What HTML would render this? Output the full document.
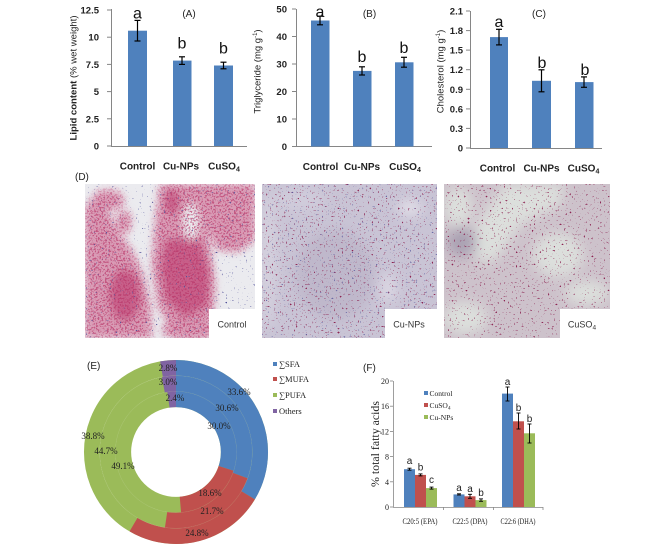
<!DOCTYPE html>
<html><head><meta charset="utf-8"><style>
html,body{margin:0;padding:0;background:#fff;}
svg{display:block;}
</style></head><body>
<svg width="653" height="550" viewBox="0 0 653 550" xmlns="http://www.w3.org/2000/svg">
<defs>
 <filter id="b4" x="-30%" y="-30%" width="160%" height="160%"><feGaussianBlur stdDeviation="4"/></filter>
 <filter id="b6" x="-30%" y="-30%" width="160%" height="160%"><feGaussianBlur stdDeviation="6"/></filter>
 <filter id="spkD" x="0" y="0" width="100%" height="100%" color-interpolation-filters="sRGB">
  <feTurbulence type="fractalNoise" baseFrequency="0.55" numOctaves="2" seed="5"/>
  <feColorMatrix type="matrix" values="0 0 0 0 0.72  0 0 0 0 0.2  0 0 0 0 0.4  0 0 0 9 -4.6"/>
 </filter>
 <filter id="spkM" x="0" y="0" width="100%" height="100%" color-interpolation-filters="sRGB">
  <feTurbulence type="fractalNoise" baseFrequency="0.5" numOctaves="2" seed="3"/>
  <feColorMatrix type="matrix" values="0 0 0 0 0.55  0 0 0 0 0.14  0 0 0 0 0.32  0 0 0 20 -14"/>
 </filter>
 <filter id="spkB" x="0" y="0" width="100%" height="100%" color-interpolation-filters="sRGB">
  <feTurbulence type="fractalNoise" baseFrequency="0.5" numOctaves="2" seed="9"/>
  <feColorMatrix type="matrix" values="0 0 0 0 0.32  0 0 0 0 0.32  0 0 0 0 0.6  0 0 0 20 -14.6"/>
 </filter>
 <clipPath id="c1"><rect x="85" y="184" width="170" height="154"/></clipPath>
 <clipPath id="c2"><rect x="262" y="184" width="175" height="154"/></clipPath>
 <clipPath id="c3"><rect x="444" y="184" width="166" height="154"/></clipPath>
 <mask id="m1" maskUnits="userSpaceOnUse" x="85" y="184" width="170" height="154">
  <g fill="#fff" filter="url(#b4)">
   <polygon points="85,205 98,198 108,212 118,232 132,250 143,275 150,305 152,338 85,338"/>
   <ellipse cx="108" cy="200" rx="16" ry="10"/>
   <ellipse cx="124" cy="222" rx="7" ry="12"/>
   <polygon points="160,184 196,184 203,210 210,245 215,285 213,318 200,332 172,332 158,305 152,265 155,225"/>
   <polygon points="196,184 255,184 255,240 238,252 218,250 207,228"/>
   <ellipse cx="190" cy="330" rx="28" ry="10"/>
  </g>
 </mask>
</defs>

<!-- ===== Chart A ===== -->
<g font-family="'Liberation Sans',sans-serif">
 <g stroke="#868686" stroke-width="1">
  <line x1="111.5" y1="9" x2="111.5" y2="146.5"/>
  <line x1="111" y1="146.5" x2="247" y2="146.5"/>
  <line x1="107" y1="10" x2="111" y2="10"/><line x1="107" y1="37.2" x2="111" y2="37.2"/>
  <line x1="107" y1="64.4" x2="111" y2="64.4"/><line x1="107" y1="91.6" x2="111" y2="91.6"/>
  <line x1="107" y1="118.8" x2="111" y2="118.8"/><line x1="107" y1="146" x2="111" y2="146"/>
 </g>
 <g font-size="9.5" font-weight="bold" fill="#222" text-anchor="end">
  <text x="99" y="13.5">12.5</text><text x="99" y="40.7">10</text><text x="99" y="67.9">7.5</text>
  <text x="99" y="95.1">5</text><text x="99" y="122.3">2.5</text><text x="99" y="149.5">0</text>
 </g>
 <g fill="#4f81bd">
  <rect x="128" y="30.7" width="19" height="115.3"/>
  <rect x="173" y="60.6" width="18.5" height="85.4"/>
  <rect x="214" y="65.5" width="19" height="80.5"/>
 </g>
 <g stroke="#000" stroke-width="1.2">
  <line x1="137.5" y1="20.4" x2="137.5" y2="41"/><line x1="134.5" y1="20.4" x2="140.5" y2="20.4"/><line x1="134.5" y1="41" x2="140.5" y2="41"/>
  <line x1="182" y1="56.8" x2="182" y2="64.4"/><line x1="179" y1="56.8" x2="185" y2="56.8"/><line x1="179" y1="64.4" x2="185" y2="64.4"/>
  <line x1="223.5" y1="62.2" x2="223.5" y2="68.8"/><line x1="220.5" y1="62.2" x2="226.5" y2="62.2"/><line x1="220.5" y1="68.8" x2="226.5" y2="68.8"/>
 </g>
 <g font-size="16" fill="#111" text-anchor="middle">
  <text x="137.5" y="18.5">a</text><text x="182" y="48.5">b</text><text x="223.5" y="53.5">b</text>
 </g>
 <text x="189" y="17" font-size="10" text-anchor="middle" fill="#222">(A)</text>
 <text transform="translate(76.5,78) rotate(-90)" font-size="9.5" text-anchor="middle" fill="#222" textLength="125" lengthAdjust="spacingAndGlyphs"><tspan font-weight="bold">Lipid content</tspan> (% wet  weight)</text>
 <g font-size="10" font-weight="bold" fill="#222" text-anchor="middle">
  <text x="137.5" y="169.5">Control</text><text x="181" y="169.5">Cu-NPs</text><text x="224" y="169.5">CuSO<tspan font-size="7" dy="2">4</tspan></text>
 </g>
</g>

<!-- ===== Chart B ===== -->
<g font-family="'Liberation Sans',sans-serif">
 <g stroke="#868686" stroke-width="1">
  <line x1="296.5" y1="9" x2="296.5" y2="147"/>
  <line x1="296" y1="146.5" x2="432" y2="146.5"/>
  <line x1="292" y1="9" x2="296" y2="9"/><line x1="292" y1="36.5" x2="296" y2="36.5"/>
  <line x1="292" y1="64" x2="296" y2="64"/><line x1="292" y1="91.5" x2="296" y2="91.5"/>
  <line x1="292" y1="119" x2="296" y2="119"/><line x1="292" y1="146.5" x2="296" y2="146.5"/>
 </g>
 <g font-size="9.5" font-weight="bold" fill="#222" text-anchor="end">
  <text x="287" y="12.5">50</text><text x="287" y="40">40</text><text x="287" y="67.5">30</text>
  <text x="287" y="95">20</text><text x="287" y="122.5">10</text><text x="287" y="150">0</text>
 </g>
 <g fill="#4f81bd">
  <rect x="311" y="20.5" width="18.5" height="126"/>
  <rect x="353" y="70.9" width="18.5" height="75.6"/>
  <rect x="395" y="62.3" width="18.5" height="84.2"/>
 </g>
 <g stroke="#000" stroke-width="1.2">
  <line x1="320" y1="16.2" x2="320" y2="24.8"/><line x1="317" y1="16.2" x2="323" y2="16.2"/><line x1="317" y1="24.8" x2="323" y2="24.8"/>
  <line x1="362" y1="66.8" x2="362" y2="75"/><line x1="359" y1="66.8" x2="365" y2="66.8"/><line x1="359" y1="75" x2="365" y2="75"/>
  <line x1="404" y1="57.3" x2="404" y2="67.2"/><line x1="401" y1="57.3" x2="407" y2="57.3"/><line x1="401" y1="67.2" x2="407" y2="67.2"/>
 </g>
 <g font-size="16" fill="#111" text-anchor="middle">
  <text x="320" y="17">a</text><text x="362" y="62">b</text><text x="404" y="53">b</text>
 </g>
 <text x="369.5" y="17" font-size="10" text-anchor="middle" fill="#222">(B)</text>
 <text transform="translate(260.5,71.5) rotate(-90)" font-size="9.5" text-anchor="middle" fill="#222">Triglyceride (mg g<tspan font-size="6" dy="-3.5">-1</tspan><tspan dy="3.5">)</tspan></text>
 <g font-size="10" font-weight="bold" fill="#222" text-anchor="middle">
  <text x="320.5" y="170">Control</text><text x="362" y="170">Cu-NPs</text><text x="405" y="170">CuSO<tspan font-size="7" dy="2">4</tspan></text>
 </g>
</g>

<!-- ===== Chart C ===== -->
<g font-family="'Liberation Sans',sans-serif">
 <g stroke="#868686" stroke-width="1">
  <line x1="470.5" y1="11" x2="470.5" y2="148.5"/>
  <line x1="470" y1="148.5" x2="602" y2="148.5"/>
  <line x1="466" y1="11" x2="470" y2="11"/><line x1="466" y1="30.6" x2="470" y2="30.6"/>
  <line x1="466" y1="50.1" x2="470" y2="50.1"/><line x1="466" y1="69.7" x2="470" y2="69.7"/>
  <line x1="466" y1="89.3" x2="470" y2="89.3"/><line x1="466" y1="108.9" x2="470" y2="108.9"/>
  <line x1="466" y1="128.4" x2="470" y2="128.4"/><line x1="466" y1="148" x2="470" y2="148"/>
 </g>
 <g font-size="9.5" font-weight="bold" fill="#222" text-anchor="end">
  <text x="463" y="14.5">2.1</text><text x="463" y="34.1">1.8</text><text x="463" y="53.6">1.5</text>
  <text x="463" y="73.2">1.2</text><text x="463" y="92.8">0.9</text><text x="463" y="112.4">0.6</text>
  <text x="463" y="131.9">0.3</text><text x="463" y="151.5">0</text>
 </g>
 <g fill="#4f81bd">
  <rect x="490" y="37.1" width="18" height="110.9"/>
  <rect x="532" y="80.8" width="19" height="67.2"/>
  <rect x="575" y="82.1" width="18.5" height="65.9"/>
 </g>
 <g stroke="#000" stroke-width="1.2">
  <line x1="499" y1="29.3" x2="499" y2="44.9"/><line x1="496" y1="29.3" x2="502" y2="29.3"/><line x1="496" y1="44.9" x2="502" y2="44.9"/>
  <line x1="541.5" y1="69.8" x2="541.5" y2="91.8"/><line x1="538.5" y1="69.8" x2="544.5" y2="69.8"/><line x1="538.5" y1="91.8" x2="544.5" y2="91.8"/>
  <line x1="584" y1="76.9" x2="584" y2="87.3"/><line x1="581" y1="76.9" x2="587" y2="76.9"/><line x1="581" y1="87.3" x2="587" y2="87.3"/>
 </g>
 <g font-size="16" fill="#111" text-anchor="middle">
  <text x="499" y="27">a</text><text x="542" y="68">b</text><text x="585" y="75">b</text>
 </g>
 <text x="539" y="17" font-size="10" text-anchor="middle" fill="#222">(C)</text>
 <text transform="translate(443.5,71.5) rotate(-90)" font-size="9.5" text-anchor="middle" fill="#222">Cholesterol (mg g<tspan font-size="6" dy="-3.5">-1</tspan><tspan dy="3.5">)</tspan></text>
 <g font-size="10" font-weight="bold" fill="#222" text-anchor="middle">
  <text x="497.5" y="171.5">Control</text><text x="541.5" y="171.5">Cu-NPs</text><text x="583.5" y="171.5">CuSO<tspan font-size="7" dy="2">4</tspan></text>
 </g>
</g>

<!-- ===== (D) micrographs ===== -->
<text x="75" y="180" font-family="'Liberation Sans',sans-serif" font-size="10" fill="#222">(D)</text>

<g clip-path="url(#c1)">
 <rect x="85" y="184" width="170" height="154" fill="#ebebef"/>
 <g filter="url(#b4)">
  <g fill="#d99bb5">
   <polygon points="85,205 98,198 108,212 118,232 132,250 143,275 150,305 152,338 85,338"/>
   <ellipse cx="108" cy="200" rx="16" ry="10"/>
   <ellipse cx="124" cy="222" rx="7" ry="12"/>
   <polygon points="160,184 196,184 203,210 210,245 215,285 213,318 200,332 172,332 158,305 152,265 155,225"/>
   <polygon points="196,184 255,184 255,240 238,252 218,250 207,228"/>
   <ellipse cx="190" cy="330" rx="28" ry="10"/>
  </g>
  <g fill="#c85f89">
   <polygon points="165,240 198,236 210,270 208,305 185,318 166,300 160,268"/>
   <ellipse cx="125" cy="295" rx="16" ry="26"/>
   <ellipse cx="172" cy="202" rx="7" ry="13"/>
  </g>
  <ellipse cx="191" cy="222" rx="8" ry="19" fill="#ebebef"/>
 </g>
 <rect x="85" y="184" width="170" height="154" filter="url(#spkD)" mask="url(#m1)" opacity="0.65"/>
 <rect x="85" y="184" width="170" height="154" filter="url(#spkB)"/>
 <rect x="209" y="309" width="46" height="29" fill="#fff"/>
 <text x="232" y="327.5" font-family="'Liberation Sans',sans-serif" font-size="9" text-anchor="middle" fill="#333">Control</text>
</g>

<g clip-path="url(#c2)">
 <rect x="262" y="184" width="175" height="154" fill="#c9c4d5"/>
 <g filter="url(#b6)">
  <ellipse cx="268" cy="260" rx="8" ry="70" fill="#d5d1de"/>
  <ellipse cx="335" cy="275" rx="40" ry="45" fill="#bfb8cb"/>
  <ellipse cx="410" cy="208" rx="12" ry="8" fill="#e2dfe8"/>
  <ellipse cx="388" cy="288" rx="9" ry="15" fill="#dad6e2"/>
  <ellipse cx="300" cy="200" rx="25" ry="12" fill="#d0ccdb"/>
 </g>
 <rect x="262" y="184" width="175" height="154" filter="url(#spkM)"/>
 <rect x="262" y="184" width="175" height="154" filter="url(#spkB)" opacity="0.8"/>
 <rect x="385" y="309" width="52" height="29" fill="#fff"/>
 <text x="409" y="327.5" font-family="'Liberation Sans',sans-serif" font-size="9" text-anchor="middle" fill="#333">Cu-NPs</text>
</g>

<g clip-path="url(#c3)">
 <rect x="444" y="184" width="166" height="154" fill="#cdc2cb"/>
 <g filter="url(#b6)" fill="#dcdfdc">
  <ellipse cx="458" cy="207" rx="14" ry="20"/>
  <polygon points="505,184 565,184 560,205 520,225 500,255 485,265 470,250 478,222"/>
  <ellipse cx="558" cy="255" rx="25" ry="22"/>
  <ellipse cx="465" cy="318" rx="22" ry="16"/>
  <ellipse cx="587" cy="293" rx="22" ry="12"/>
  <ellipse cx="462" cy="242" rx="15" ry="15" fill="#aba2b3"/>
 </g>
 <rect x="444" y="184" width="166" height="154" filter="url(#spkM)"/>
 <rect x="560" y="309" width="50" height="29" fill="#fff"/>
 <text x="582" y="327.5" font-family="'Liberation Sans',sans-serif" font-size="9" text-anchor="middle" fill="#333">CuSO<tspan font-size="6.5" dy="2">4</tspan></text>
</g>

<!-- ===== (E) donut ===== -->
<text x="87" y="369" font-family="'Liberation Sans',sans-serif" font-size="10" fill="#222">(E)</text>
<g transform="rotate(-90 176 452)" fill="none">
 <circle cx="176" cy="452" r="52.83" stroke="#9bbb59" stroke-width="15.9"/>
 <circle cx="176" cy="452" r="52.83" stroke="#4f81bd" stroke-width="15.9" stroke-dasharray="99.59 1000"/>
 <circle cx="176" cy="452" r="52.83" stroke="#c0504d" stroke-width="15.9" stroke-dasharray="61.74 1000" stroke-dashoffset="-99.59"/>
 <circle cx="176" cy="452" r="52.83" stroke="#8064a2" stroke-width="15.9" stroke-dasharray="7.97 1000" stroke-dashoffset="-323.98"/>

 <circle cx="176" cy="452" r="68.5" stroke="#9bbb59" stroke-width="15.8"/>
 <circle cx="176" cy="452" r="68.5" stroke="#4f81bd" stroke-width="15.8" stroke-dasharray="131.70 1000"/>
 <circle cx="176" cy="452" r="68.5" stroke="#c0504d" stroke-width="15.8" stroke-dasharray="93.40 1000" stroke-dashoffset="-131.70"/>
 <circle cx="176" cy="452" r="68.5" stroke="#8064a2" stroke-width="15.8" stroke-dasharray="12.91 1000" stroke-dashoffset="-417.49"/>

 <circle cx="176" cy="452" r="84.17" stroke="#9bbb59" stroke-width="15.7"/>
 <circle cx="176" cy="452" r="84.17" stroke="#4f81bd" stroke-width="15.7" stroke-dasharray="177.70 1000"/>
 <circle cx="176" cy="452" r="84.17" stroke="#c0504d" stroke-width="15.7" stroke-dasharray="131.16 1000" stroke-dashoffset="-177.70"/>
 <circle cx="176" cy="452" r="84.17" stroke="#8064a2" stroke-width="15.7" stroke-dasharray="14.81 1000" stroke-dashoffset="-514.05"/>

 <circle cx="176" cy="452" r="60.7" stroke="#fff" stroke-opacity="0.1" stroke-width="0.6"/>
 <circle cx="176" cy="452" r="76.3" stroke="#fff" stroke-opacity="0.1" stroke-width="0.6"/>
</g>
<g font-family="'Liberation Serif',serif" font-size="9" fill="#222" text-anchor="middle">
 <text x="168" y="371">2.8%</text><text x="168" y="385">3.0%</text><text x="175" y="401">2.4%</text>
 <text x="239" y="395">33.6%</text><text x="227" y="411">30.6%</text><text x="219" y="429">30.0%</text>
 <text x="93" y="439">38.8%</text><text x="106" y="454">44.7%</text><text x="123" y="469">49.1%</text>
 <text x="210" y="496">18.6%</text><text x="212" y="514">21.7%</text><text x="197" y="536">24.8%</text>
</g>
<g font-family="'Liberation Serif',serif" font-size="8.5" fill="#222">
 <rect x="273" y="362" width="4" height="4" fill="#4f81bd"/><text x="279" y="367">∑SFA</text>
 <rect x="273" y="377" width="4" height="4" fill="#c0504d"/><text x="279" y="382">∑MUFA</text>
 <rect x="273" y="393" width="4" height="4" fill="#9bbb59"/><text x="279" y="398">∑PUFA</text>
 <rect x="273" y="409" width="4" height="4" fill="#8064a2"/><text x="279" y="414">Others</text>
</g>

<!-- ===== (F) grouped bars ===== -->
<text x="363" y="371" font-family="'Liberation Sans',sans-serif" font-size="10" fill="#222">(F)</text>
<g stroke="#868686" stroke-width="0.8">
 <line x1="393.5" y1="381" x2="393.5" y2="507"/>
 <line x1="393" y1="507.5" x2="543" y2="507.5"/>
 <line x1="390" y1="381" x2="393" y2="381"/><line x1="390" y1="406.2" x2="393" y2="406.2"/>
 <line x1="390" y1="431.4" x2="393" y2="431.4"/><line x1="390" y1="456.6" x2="393" y2="456.6"/>
 <line x1="390" y1="481.8" x2="393" y2="481.8"/><line x1="390" y1="507" x2="393" y2="507"/>
 <line x1="443.5" y1="507" x2="443.5" y2="510"/><line x1="493.5" y1="507" x2="493.5" y2="510"/><line x1="543" y1="507" x2="543" y2="510"/>
</g>
<g font-family="'Liberation Serif',serif" font-size="8" fill="#222" text-anchor="end">
 <text x="389" y="384">20</text><text x="389" y="409.2">16</text><text x="389" y="434.4">12</text>
 <text x="389" y="459.6">8</text><text x="389" y="484.8">4</text><text x="389" y="510">0</text>
</g>
<g>
 <rect x="404" y="469.2" width="11" height="37.8" fill="#4f81bd"/>
 <rect x="415" y="474.9" width="11" height="32.1" fill="#c0504d"/>
 <rect x="426" y="488.1" width="11" height="18.9" fill="#9bbb59"/>
 <rect x="453.5" y="494.4" width="11" height="12.6" fill="#4f81bd"/>
 <rect x="464.5" y="496.3" width="11" height="10.7" fill="#c0504d"/>
 <rect x="475.5" y="500.1" width="11" height="6.9" fill="#9bbb59"/>
 <rect x="502" y="393.6" width="11" height="113.4" fill="#4f81bd"/>
 <rect x="513" y="421.3" width="11" height="85.7" fill="#c0504d"/>
 <rect x="524" y="433.3" width="11" height="73.7" fill="#9bbb59"/>
</g>
<g stroke="#000" stroke-width="0.9">
 <line x1="409.5" y1="468.2" x2="409.5" y2="470.2"/><line x1="407.5" y1="468.2" x2="411.5" y2="468.2"/><line x1="407.5" y1="470.2" x2="411.5" y2="470.2"/>
 <line x1="420.5" y1="473.9" x2="420.5" y2="475.9"/><line x1="418.5" y1="473.9" x2="422.5" y2="473.9"/><line x1="418.5" y1="475.9" x2="422.5" y2="475.9"/>
 <line x1="431.5" y1="487.1" x2="431.5" y2="489.1"/><line x1="429.5" y1="487.1" x2="433.5" y2="487.1"/><line x1="429.5" y1="489.1" x2="433.5" y2="489.1"/>
 <line x1="459" y1="493.8" x2="459" y2="495"/><line x1="457" y1="493.8" x2="461" y2="493.8"/><line x1="457" y1="495" x2="461" y2="495"/>
 <line x1="470" y1="494.3" x2="470" y2="498.3"/><line x1="468" y1="494.3" x2="472" y2="494.3"/><line x1="468" y1="498.3" x2="472" y2="498.3"/>
 <line x1="481" y1="498.9" x2="481" y2="501.3"/><line x1="479" y1="498.9" x2="483" y2="498.9"/><line x1="479" y1="501.3" x2="483" y2="501.3"/>
 <line x1="507.5" y1="387" x2="507.5" y2="401"/><line x1="505.5" y1="387" x2="509.5" y2="387"/><line x1="505.5" y1="401" x2="509.5" y2="401"/>
 <line x1="518.5" y1="413" x2="518.5" y2="429"/><line x1="516.5" y1="413" x2="520.5" y2="413"/><line x1="516.5" y1="429" x2="520.5" y2="429"/>
 <line x1="529.5" y1="424" x2="529.5" y2="443"/><line x1="527.5" y1="424" x2="531.5" y2="424"/><line x1="527.5" y1="443" x2="531.5" y2="443"/>
</g>
<g font-family="'Liberation Sans',sans-serif" font-size="10" fill="#222" text-anchor="middle">
 <text x="409.5" y="464">a</text><text x="420.5" y="470.5">b</text><text x="431.5" y="483">c</text>
 <text x="459" y="491">a</text><text x="470" y="492">a</text><text x="481" y="496">b</text>
 <text x="507.5" y="385">a</text><text x="518.5" y="411">b</text><text x="529.5" y="422">b</text>
</g>
<g font-family="'Liberation Serif',serif" font-size="7.5" fill="#222">
 <rect x="424" y="391" width="4" height="4" fill="#4f81bd"/><text x="429.5" y="396">Control</text>
 <rect x="424" y="403" width="4" height="4" fill="#c0504d"/><text x="429.5" y="408">CuSO<tspan font-size="5.5" dy="1.5">4</tspan></text>
 <rect x="424" y="415" width="4" height="4" fill="#9bbb59"/><text x="429.5" y="420">Cu-NPs</text>
</g>
<text transform="translate(379,444) rotate(-90)" font-family="'Liberation Serif',serif" font-size="12" fill="#222" text-anchor="middle" textLength="86" lengthAdjust="spacingAndGlyphs">% total fatty acids</text>
<g font-family="'Liberation Serif',serif" font-size="8" fill="#222" text-anchor="middle">
 <text x="420" y="524" textLength="35" lengthAdjust="spacingAndGlyphs">C20:5 (EPA)</text>
 <text x="470" y="524" textLength="35" lengthAdjust="spacingAndGlyphs">C22:5 (DPA)</text>
 <text x="518" y="524" textLength="35" lengthAdjust="spacingAndGlyphs">C22:6 (DHA)</text>
</g>
</svg>
</body></html>
